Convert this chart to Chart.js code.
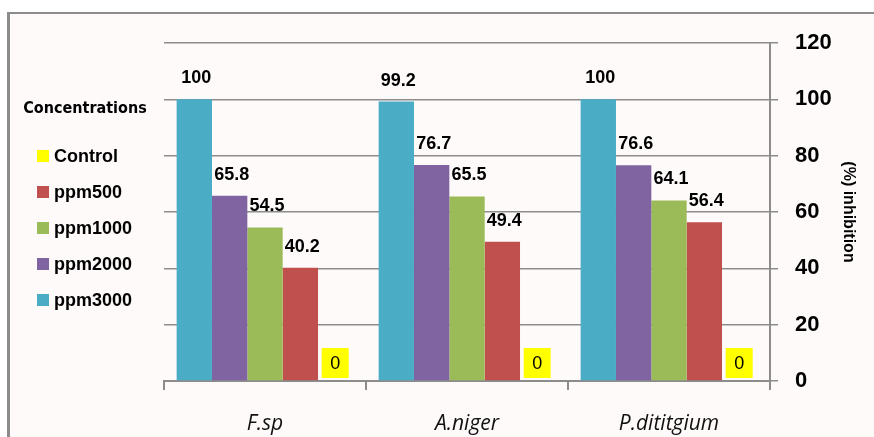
<!DOCTYPE html>
<html>
<head>
<meta charset="utf-8">
<script src="https://cdn.jsdelivr.net/npm/chart.js@4.4.0/dist/chart.umd.min.js"></script>
<style>
  html, body { margin: 0; padding: 0; background: #fff; }
  body { width: 874px; height: 437px; overflow: hidden; position: relative; }
  #frame {
    position: absolute; left: 7px; top: 12px; width: 900px; height: 460px;
    border-left: 3px solid #8c8c8c; border-top: 2px solid #8c8c8c;
    background: #fefafa;
  }
  #chart { position: absolute; left: 0; top: 0; }
</style>
</head>
<body>
<div id="frame"></div>
<canvas id="chart" width="874" height="437"></canvas>
<script>
// data
const categories = ['F.sp', 'A.niger', 'P.dititgium'];
const ppm3000 = [100, 99.2, 100];
const ppm2000 = [65.8, 76.7, 76.6];
const ppm1000 = [54.5, 65.5, 64.1];
const ppm500 = [40.2, 49.4, 56.4];
const control = [0, 0, 0];
const yTicks = [0, 20, 40, 60, 80, 100, 120];

const FONT = '"Liberation Sans", Arial, sans-serif';

// legend drawn on the left, in reverse dataset order
const sideLegend = {
  id: 'sideLegend',
  afterDraw(chart) {
    const ctx = chart.ctx;
    ctx.save();
    ctx.fillStyle = '#000';
    ctx.textBaseline = 'middle';
    ctx.textAlign = 'center';
    ctx.font = 'bold 16px "DejaVu Sans Condensed", ' + FONT;
    ctx.fillText('Concentrations', 85, 109);

    ctx.textAlign = 'left';
    ctx.font = 'bold 18px ' + FONT;
    const items = chart.data.datasets.slice().reverse();
    items.forEach((ds, k) => {
      const y = 156 + k * 36;
      ctx.fillStyle = ds.backgroundColor;
      ctx.fillRect(37, y - 6, 12, 12);
      ctx.fillStyle = '#000';
      ctx.fillText(ds.label, 54, y + 1);
    });
    ctx.restore();
  }
};

// value labels above the bars, boxed zero for Control
const valueLabels = {
  id: 'valueLabels',
  afterDatasetsDraw(chart) {
    const ctx = chart.ctx;
    ctx.save();
    ctx.textAlign = 'center';
    ctx.textBaseline = 'middle';
    chart.data.datasets.forEach((ds, i) => {
      const meta = chart.getDatasetMeta(i);
      meta.data.forEach((bar, j) => {
        const v = ds.data[j];
        if (ds.label === 'Control') {
          ctx.fillStyle = '#ffff00';
          ctx.fillRect(bar.x - 14, bar.y - 33, 27, 30);
          ctx.fillStyle = '#000';
          ctx.font = '18px ' + FONT;
          ctx.fillText(String(v), bar.x - 0.5, bar.y - 17);
        } else {
          ctx.fillStyle = '#000';
          ctx.font = 'bold 18px ' + FONT;
          ctx.fillText(String(v), bar.x + 2, bar.y - 21);
        }
      });
    });
    ctx.restore();
  }
};

new Chart(document.getElementById('chart'), {
  type: 'bar',
  data: {
    labels: categories,
    datasets: [
      { label: 'ppm3000', data: ppm3000, backgroundColor: '#4bacc6' },
      { label: 'ppm2000', data: ppm2000, backgroundColor: '#8064a2' },
      { label: 'ppm1000', data: ppm1000, backgroundColor: '#9bbb59' },
      { label: 'ppm500', data: ppm500, backgroundColor: '#c0504d' },
      { label: 'Control', data: control, backgroundColor: '#ffff00' }
    ]
  },
  options: {
    responsive: false,
    animation: false,
    devicePixelRatio: 1,
    categoryPercentage: 0.875,
    barPercentage: 1.0,
    layout: { padding: { left: 164, top: 43, right: 0, bottom: 0 } },
    plugins: {
      legend: { display: false },
      tooltip: { enabled: false }
    },
    scales: {
      x: {
        offset: true,
        grid: { display: true, offset: true, drawOnChartArea: false, tickLength: 9, color: '#8c8c8c', lineWidth: 2 },
        border: { display: true, color: '#8c8c8c', width: 2 },
        ticks: { color: '#111', padding: 21, font: { family: '"Open Sans", sans-serif', size: 21, style: 'italic' } },
        afterFit(s) { s.height = 56; }
      },
      y: {
        position: 'right',
        min: 0,
        max: 120,
        afterBuildTicks(s) { s.ticks = yTicks.map(v => ({ value: v })); },
        ticks: { color: '#000', padding: 17, font: { family: FONT, size: 22, weight: 'bold' } },
        grid: { color: '#8c8c8c', lineWidth: 1.5, tickLength: 8 },
        border: { color: '#8c8c8c', width: 2 },
        title: {
          display: true,
          text: '(%) inhibition',
          color: '#000',
          font: { family: FONT, size: 16, weight: 'bold' },
          padding: { top: 16, bottom: 0 }
        },
        afterFit(s) { s.width = 104; }
      }
    }
  },
  plugins: [valueLabels, sideLegend]
});
</script>
</body>
</html>
